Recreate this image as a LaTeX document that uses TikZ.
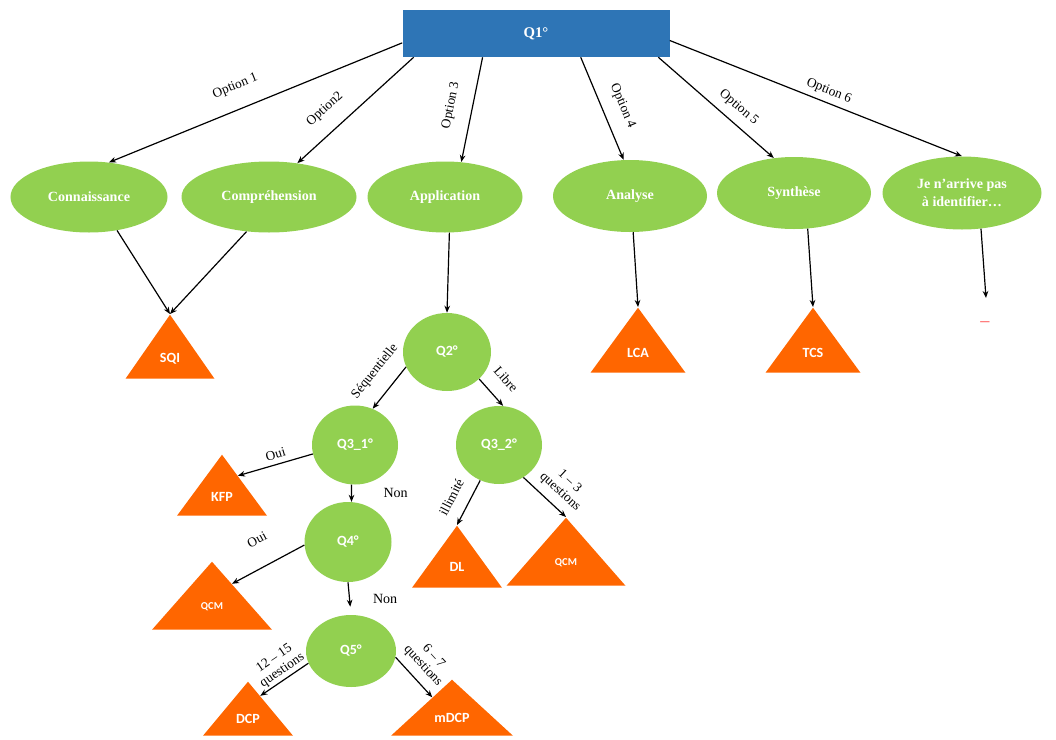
\documentclass[tikz,border=0pt]{standalone}
\usepackage{fontspec}
\setmainfont{Liberation Serif}
\newfontfamily\calibrifont{Carlito}
\usetikzlibrary{shapes.geometric,arrows.meta,calc}

\definecolor{qblue}{HTML}{2E75B6}
\definecolor{qgreen}{HTML}{92D050}
\definecolor{qorange}{HTML}{FF6600}

\tikzset{
	question/.style={rectangle, fill=qblue, text=white, font=\fontsize{10.5}{12}\selectfont\bfseries, minimum width=66.75mm, minimum height=11.75mm},
	level/.style={ellipse, fill=qgreen, text=white, font=\fontsize{10}{13}\selectfont\bfseries, align=center, inner sep=0pt},
	choice/.style={ellipse, fill=qgreen, text=white, font=\calibrifont\bfseries, inner sep=0pt},
	result/.style={isosceles triangle, isosceles triangle stretches, shape border rotate=90, anchor=apex, fill=qorange, text=white, font=\calibrifont\bfseries, inner sep=0pt},
	link/.style={-{Stealth[length=5pt,width=4pt]}, line width=0.85pt},
	tag/.style={sloped, font=\fontsize{9.5}{10}\selectfont, align=center, inner sep=1.5pt},
}

\begin{document}
\begin{tikzpicture}[x=0.25mm, y=-0.25mm]
	\useasboundingbox (0,0) rectangle (1056,739);

	\node[question] at (536,33.5) (q1) {Q1°};

	\node[level, minimum width=39.25mm, minimum height=17.75mm] at (89,197) (conn) {Connaissance};
	\node[level, minimum width=43.75mm, minimum height=17.75mm] at (269,197) (comp) {Compréhension};
	\node[level, minimum width=38.75mm, minimum height=17.75mm] at (445,197) (app) {Application};
	\node[level, minimum width=38.5mm, minimum height=18mm] at (630,196) (ana) {Analyse};
	\node[level, minimum width=38.5mm, minimum height=18mm] at (794,193) (syn) {Synthèse};
	\node[level, minimum width=39.75mm, minimum height=18.25mm] at (962,193) (je) {Je n’arrive pas\\à identifier…};

	\node[result, minimum width=22.25mm, minimum height=16mm] at (170,314) (sqi) {SQI};
	\node[result, minimum width=23.75mm, minimum height=16.25mm] at (638,307) (lca) {LCA};
	\node[result, minimum width=23.75mm, minimum height=16.25mm] at (813,307) (tcs) {TCS};
	\coordinate (jeend) at (986,298);
	\node[text=red!70, font=\fontsize{13}{13}\selectfont] at (985,324) (jedots) {–};

	\node[choice, minimum width=22mm, minimum height=19.5mm] at (447,352) (q2) {Q2°};
	\node[choice, minimum width=21.5mm, minimum height=19.75mm] at (355,445) (q31) {Q3\_1°};
	\node[choice, minimum width=21.5mm, minimum height=19.5mm] at (499,445) (q32) {Q3\_2°};
	\node[choice, minimum width=21.75mm, minimum height=20mm] at (348,542) (q4) {Q4°};
	\node[choice, minimum width=22.5mm, minimum height=18mm] at (351,651) (q5) {Q5°};

	\node[result, minimum width=22.5mm, minimum height=15.25mm] at (222,454) (kfp) {KFP};
	\node[result, minimum width=30mm, minimum height=17mm, font=\calibrifont\bfseries\fontsize{7.5}{8}\selectfont] at (212,561) (qcm1) {QCM};
	\node[result, minimum width=22.5mm, minimum height=15.5mm] at (457,525) (dl) {DL};
	\node[result, minimum width=29.75mm, minimum height=17mm, font=\calibrifont\bfseries\fontsize{7.5}{8}\selectfont] at (566,517) (qcm2) {QCM};
	\node[result, minimum width=22.5mm, minimum height=13.5mm] at (248,681) (dcp) {DCP};
	\node[result, minimum width=30.5mm, minimum height=14mm] at (452,679) (mdcp) {mDCP};

	\draw[link] (q1.184) -- node[tag, pos=0.54, above=10pt] {Option 1} (conn.60);
	\draw[link] (q1.191) -- node[tag, pos=0.64, above=9pt] {Option2} (comp.50);
	\draw[link] (q1.204) -- node[tag, pos=0.5, above=9pt] {Option 3} (app.65);
	\draw[link] (q1.-28) -- node[tag, pos=0.55, above=8pt] {Option 4} (ana.100);
	\draw[link] (q1.-11.5) -- node[tag, pos=0.61, above=4.5pt] {Option 5} (syn.120);
	\draw[link] (q1.-3.5) -- node[tag, pos=0.53, above=2pt] {Option 6} (je.north);

	\draw[link] (conn.-50) -- (sqi.apex);
	\draw[link] (comp.-123) -- (sqi.apex);
	\draw[link] (app.-83) -- (q2.north);
	\draw[link] (ana.-85) -- (lca.apex);
	\draw[link] (syn.-69) -- (tcs.apex);
	\draw[link] (je.-62) -- (jeend);

	\draw[link] (q2.200) -- node[tag, pos=0.43, above=9pt] {Séquentielle} (q31.64);
	\draw[link] (q2.-40) -- node[tag, pos=0.5, above=9pt] {Libre} (q32.84);
	\draw[link] (q31.192) -- node[tag, pos=0.46, above=2pt] {Oui} ($(kfp.apex)!0.35!(kfp.right corner)$);
	\draw[link] (q31.-95) -- node[right=19pt] {Non} (q4.85);
	\draw[link] (q32.-118) -- node[tag, pos=0.56, above=7.5pt] {illimité} (dl.apex);
	\draw[link] (q32.-53) -- node[tag, pos=0.63, above=4pt] {1 – 3\\questions} (qcm2.apex);
	\draw[link] (q4.184) -- node[tag, pos=0.48, above=14pt] {Oui} ($(qcm1.apex)!0.33!(qcm1.right corner)$);
	\draw[link, shorten >=2mm] (q4.south) -- node[right=13pt] {Non} (q5.north);
	\draw[link] (q5.196) -- node[tag, pos=0.44, above=0pt] {12 – 15\\questions} ($(dcp.apex)!0.27!(dcp.right corner)$);
	\draw[link] (q5.-8) -- node[tag, pos=0.46, above=4pt] {6 – 7\\questions} ($(mdcp.apex)!0.32!(mdcp.left corner)$);
\end{tikzpicture}
\end{document}
